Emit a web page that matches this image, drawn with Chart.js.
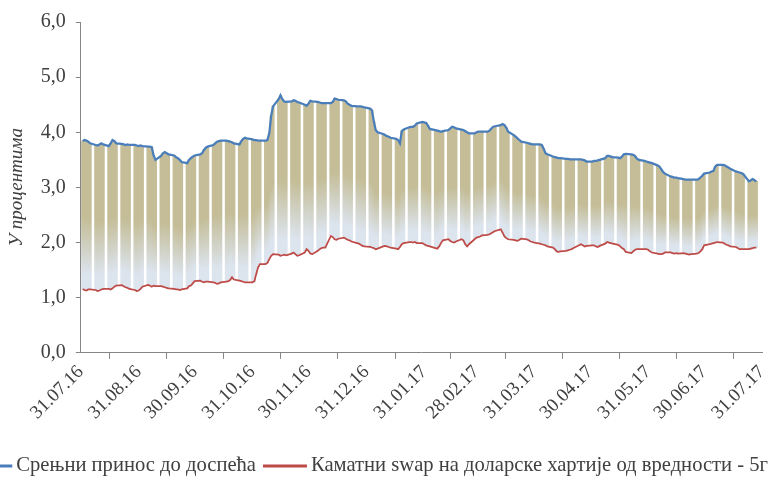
<!DOCTYPE html>
<html>
<head>
<meta charset="utf-8">
<script src="https://cdn.jsdelivr.net/npm/chart.js@4"></script>
<style>
  html, body { margin: 0; padding: 0; background: #fff; }
</style>
</head>
<body>
<canvas id="spreadChart" width="772" height="480"></canvas>
<script>
// month-end tick positions (days after 31.07.16) and their labels
var tickDays = [0, 31, 61, 92, 122, 153, 184, 212, 243, 273, 304, 334, 365];
var tickLabels = ["31.07.16", "31.08.16", "30.09.16", "31.10.16", "30.11.16", "31.12.16",
                  "31.01.17", "28.02.17", "31.03.17", "30.04.17", "31.05.17", "30.06.17", "31.07.17"];

var seriesNames = ["Срењни принос до доспећа", "Каматни swap на доларске хартије од вредности - 5г"];

// daily values, one row per week (Mon..Fri), from 01.08.16
var avgYield = [
  3.84, 3.86, 3.85, 3.83, 3.80,
  3.77, 3.76, 3.78, 3.80, 3.78,
  3.75, 3.80, 3.86, 3.84, 3.80,
  3.79, 3.78, 3.77, 3.78, 3.77,
  3.77, 3.76, 3.75, 3.76, 3.75,
  3.74, 3.74, 3.73, 3.58, 3.50,
  3.57, 3.62, 3.64, 3.62, 3.60,
  3.58, 3.55, 3.53, 3.50, 3.46,
  3.44, 3.50, 3.53, 3.56, 3.58,
  3.60, 3.62, 3.68, 3.72, 3.74,
  3.77, 3.80, 3.83, 3.84, 3.85,
  3.85, 3.84, 3.83, 3.82, 3.80,
  3.78, 3.84, 3.88, 3.90, 3.89,
  3.87, 3.86, 3.86, 3.85, 3.85,
  3.85, 3.86, 3.98, 4.30, 4.47,
  4.60, 4.67, 4.60, 4.56, 4.55,
  4.56, 4.58, 4.57, 4.55, 4.54,
  4.50, 4.48, 4.52, 4.57, 4.56,
  4.55, 4.54, 4.53, 4.53, 4.53,
  4.53, 4.55, 4.61, 4.60, 4.59,
  4.58, 4.56, 4.52, 4.50, 4.48,
  4.47, 4.47, 4.47, 4.46, 4.45,
  4.43, 4.40, 4.20, 4.04, 4.00,
  3.97, 3.95, 3.93, 3.92, 3.90,
  3.88, 3.86, 3.80, 4.02, 4.05,
  4.09, 4.10, 4.10, 4.12, 4.16,
  4.19, 4.18, 4.17, 4.12, 4.06,
  4.04, 4.03, 4.02, 4.01, 4.02,
  4.04, 4.07, 4.10, 4.09, 4.07,
  4.05, 4.04, 4.02, 4.00, 3.98,
  3.98, 4.00, 4.01, 4.01, 4.01,
  4.01, 4.03, 4.07, 4.10, 4.11,
  4.13, 4.15, 4.13, 4.08, 4.01,
  3.95, 3.92, 3.89, 3.86, 3.83,
  3.81, 3.80, 3.79, 3.78, 3.78,
  3.78, 3.77, 3.70, 3.62, 3.60,
  3.56, 3.55, 3.54, 3.53, 3.53,
  3.52, 3.52, 3.51, 3.51, 3.51,
  3.51, 3.51, 3.50, 3.49, 3.47,
  3.47, 3.48, 3.48, 3.49, 3.50,
  3.53, 3.57, 3.57, 3.56, 3.55,
  3.54, 3.53, 3.56, 3.60, 3.61,
  3.60, 3.59, 3.57, 3.52, 3.50,
  3.48, 3.47, 3.46, 3.45, 3.44,
  3.40, 3.38, 3.33, 3.28, 3.25,
  3.20, 3.19, 3.18, 3.18, 3.17,
  3.15, 3.14, 3.14, 3.14, 3.14,
  3.14, 3.15, 3.18, 3.21, 3.25,
  3.27, 3.29, 3.30, 3.38, 3.41,
  3.41, 3.40, 3.38, 3.36, 3.34,
  3.29, 3.28, 3.27, 3.26, 3.24,
  3.11, 3.13, 3.15, 3.13, 3.11
];

var swapRate = [
  1.16, 1.14, 1.13, 1.15, 1.15,
  1.14, 1.12, 1.13, 1.15, 1.16,
  1.16, 1.15, 1.17, 1.20, 1.22,
  1.23, 1.21, 1.19, 1.18, 1.16,
  1.14, 1.12, 1.13, 1.16, 1.20,
  1.23, 1.22, 1.20, 1.22, 1.21,
  1.21, 1.20, 1.19, 1.18, 1.17,
  1.16, 1.15, 1.15, 1.14, 1.15,
  1.17, 1.21, 1.22, 1.26, 1.30,
  1.31, 1.29, 1.28, 1.29, 1.29,
  1.28, 1.27, 1.25, 1.26, 1.28,
  1.29, 1.30, 1.32, 1.37, 1.33,
  1.31, 1.30, 1.29, 1.28, 1.28,
  1.28, 1.30, 1.43, 1.55, 1.61,
  1.61, 1.63, 1.70, 1.76, 1.79,
  1.78, 1.76, 1.77, 1.78, 1.77,
  1.80, 1.82, 1.79, 1.76, 1.77,
  1.82, 1.88, 1.85, 1.80, 1.79,
  1.85, 1.88, 1.90, 1.91, 1.91,
  2.12, 2.10, 2.06, 2.05, 2.07,
  2.09, 2.07, 2.05, 2.04, 2.02,
  1.99, 1.98, 1.96, 1.94, 1.93,
  1.92, 1.91, 1.90, 1.88, 1.89,
  1.93, 1.94, 1.93, 1.92, 1.91,
  1.89, 1.88, 1.92, 1.97, 1.99,
  2.01, 2.01, 2.00, 2.01, 1.99,
  1.99, 1.97, 1.95, 1.94, 1.93,
  1.90, 1.89, 1.93, 1.99, 2.04,
  2.06, 2.03, 2.01, 2.00, 2.02,
  2.06, 2.04, 1.97, 1.93, 1.97,
  2.06, 2.09, 2.10, 2.11, 2.13,
  2.14, 2.15, 2.17, 2.19, 2.21,
  2.24, 2.18, 2.11, 2.08, 2.06,
  2.05, 2.04, 2.03, 2.05, 2.07,
  2.06, 2.04, 2.02, 2.01, 2.00,
  1.98, 1.97, 1.96, 1.95, 1.93,
  1.91, 1.88, 1.84, 1.83, 1.84,
  1.85, 1.86, 1.87, 1.88, 1.90,
  1.95, 1.97, 1.95, 1.93, 1.94,
  1.95, 1.95, 1.93, 1.92, 1.94,
  1.98, 2.01, 2.00, 1.99, 1.98,
  1.96, 1.93, 1.90, 1.88, 1.83,
  1.81, 1.84, 1.87, 1.88, 1.88,
  1.88, 1.88, 1.87, 1.84, 1.82,
  1.80, 1.79, 1.79, 1.80, 1.82,
  1.82, 1.81, 1.80, 1.81, 1.80,
  1.81, 1.80, 1.79, 1.78, 1.79,
  1.80, 1.81, 1.84, 1.88, 1.95,
  1.97, 1.98, 1.99, 2.00, 2.01,
  2.00, 1.98, 1.96, 1.95, 1.93,
  1.92, 1.90, 1.88, 1.88, 1.88,
  1.88, 1.89, 1.90, 1.91, 1.91
];

// working days: Monday 01.08.16 is day 1
var n = Math.min(avgYield.length, swapRate.length);
var days = [];
for (var i = 0; i < n; i++) {
  days.push(1 + Math.floor(i / 5) * 7 + (i % 5));
}

var blueLine = [], redLine = [], spreadBars = [];
for (var j = 0; j < n; j++) {
  blueLine.push({ x: days[j], y: avgYield[j] });
  redLine.push({ x: days[j], y: swapRate[j] });
  spreadBars.push({ x: days[j], y: [swapRate[j], avgYield[j]] });
}

var serif = "'Liberation Serif', 'Times New Roman', serif";
var axisGray = "#868686";
var textGray = "#404040";

function barFill(ctx) {
  var chart = ctx.chart;
  if (!chart.chartArea || !ctx.raw) return "#C4BD97";
  var y = chart.scales.y;
  var top = y.getPixelForValue(ctx.raw.y[1]);
  var bottom = y.getPixelForValue(ctx.raw.y[0]);
  var g = chart.ctx.createLinearGradient(0, top, 0, bottom);
  g.addColorStop(0, "#C4BD97");
  g.addColorStop(0.52, "#C4BD97");
  g.addColorStop(0.9, "#DCE4EE");
  g.addColorStop(1, "#DCE4EE");
  return g;
}

// legend drawn by hand so both entries stay on one line like the original
var bottomLegend = {
  id: "bottomLegend",
  afterDraw: function (chart) {
    var c = chart.ctx;
    var colors = ["#4A7EBB", "#BE4B48"];
    var markW = 44, gapText = 4, gapItem = 7;
    c.save();
    c.font = "20.6px " + serif;
    c.textBaseline = "middle";
    var widths = seriesNames.map(function (s) { return c.measureText(s).width; });
    var total = 0;
    widths.forEach(function (w) { total += markW + gapText + w; });
    total += gapItem;
    var x = chart.width - 4 - total;
    var y = 466;
    for (var k = 0; k < seriesNames.length; k++) {
      c.strokeStyle = colors[k];
      c.lineWidth = 3;
      c.beginPath();
      c.moveTo(x, y);
      c.lineTo(x + markW, y);
      c.stroke();
      c.fillStyle = textGray;
      c.fillText(seriesNames[k], x + markW + gapText, y);
      x += markW + gapText + widths[k] + gapItem;
    }
    c.restore();
  }
};

var config = {
  data: {
    datasets: [
      {
        type: "line",
        label: seriesNames[0],
        data: blueLine,
        borderColor: "#4A7EBB",
        borderWidth: 2.25,
        pointRadius: 0,
        tension: 0,
        order: 1
      },
      {
        type: "line",
        label: seriesNames[1],
        data: redLine,
        borderColor: "#BE4B48",
        borderWidth: 1.75,
        pointRadius: 0,
        tension: 0,
        order: 2
      },
      {
        type: "bar",
        label: "spread",
        data: spreadBars,
        backgroundColor: barFill,
        borderWidth: 0,
        barThickness: 2.4,
        order: 3
      }
    ]
  },
  plugins: [bottomLegend],
  options: {
    responsive: false,
    animation: false,
    layout: { padding: { top: 8, right: 10, bottom: 54, left: 6 } },
    plugins: {
      legend: { display: false },
      tooltip: { enabled: false }
    },
    scales: {
      x: {
        type: "linear",
        min: 0,
        max: 365,
        offset: false,
        afterBuildTicks: function (scale) {
          scale.ticks = tickDays.map(function (d) { return { value: d }; });
        },
        afterFit: function (scale) {
          scale.paddingRight = 0;
        },
        ticks: {
          autoSkip: false,
          maxRotation: 45,
          minRotation: 45,
          padding: 2,
          color: textGray,
          font: { family: serif, size: 19 },
          callback: function (value) {
            var k = tickDays.indexOf(value);
            return k >= 0 ? tickLabels[k] : "";
          }
        },
        grid: {
          display: true,
          drawOnChartArea: false,
          drawTicks: true,
          tickLength: 6,
          color: axisGray
        },
        border: { display: true, color: axisGray, width: 1 }
      },
      y: {
        min: 0,
        max: 6,
        ticks: {
          stepSize: 1,
          color: textGray,
          padding: 10,
          font: { family: serif, size: 20 },
          callback: function (value) { return value.toFixed(1).replace(".", ","); }
        },
        title: {
          display: true,
          text: "У процентима",
          color: textGray,
          padding: { top: 0, bottom: 2 },
          font: { family: serif, size: 19, style: "italic" }
        },
        grid: {
          display: true,
          drawOnChartArea: false,
          drawTicks: true,
          tickLength: 5,
          color: axisGray
        },
        border: { display: true, color: axisGray, width: 1 }
      }
    }
  }
};

var spreadChart = new Chart(document.getElementById("spreadChart"), config);
</script>
</body>
</html>
